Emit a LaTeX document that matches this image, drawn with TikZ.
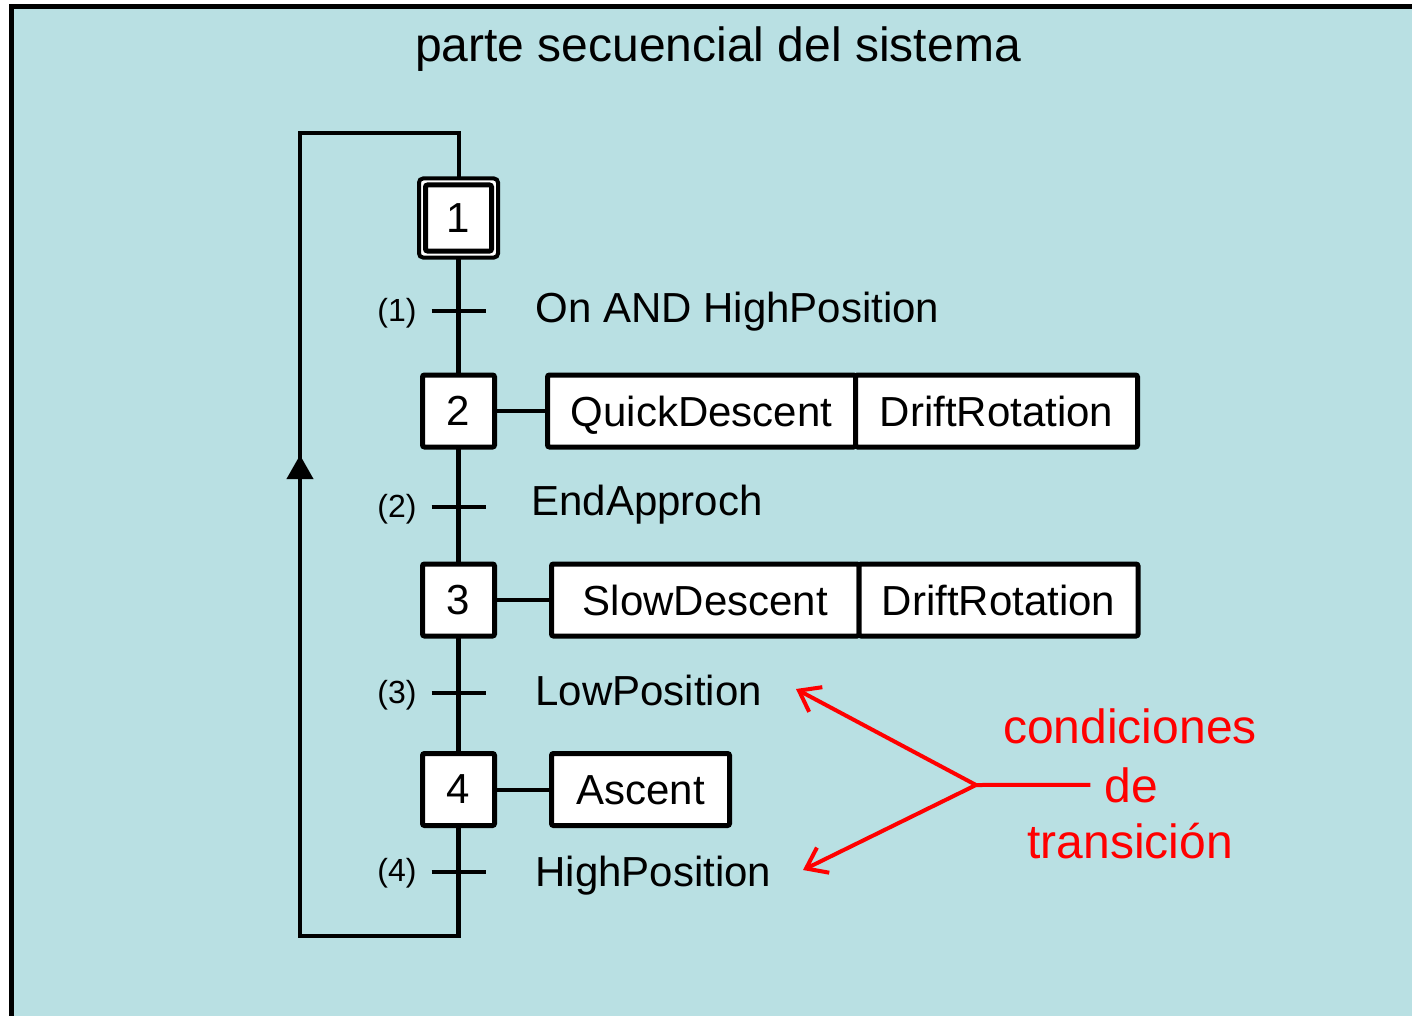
\documentclass[tikz,border=0pt]{standalone}
\usepackage{fontspec}
\setmainfont{Liberation Sans}
\usetikzlibrary{arrows.meta,calc}
\definecolor{panel}{RGB}{185,224,227}
\definecolor{notered}{RGB}{255,0,0}
\begin{document}
\begin{tikzpicture}[x=0.5pt,y=-0.5pt,
  lbl/.style={font=\fontsize{21}{25}\selectfont, inner sep=0pt, anchor=base west},
  numlbl/.style={font=\fontsize{16}{19}\selectfont, inner sep=0pt, anchor=east},
  stepbox/.style={draw, fill=white, line width=2.5pt, rounded corners=1pt,
    minimum size=36pt, inner sep=0pt, outer sep=0pt, font=\fontsize{21}{25}\selectfont},
  actbox/.style={draw, fill=white, line width=2.5pt, rounded corners=1pt,
    minimum height=36pt, inner sep=0pt, outer sep=0pt, anchor=west,
    text height=15pt, text depth=0pt,
    font=\fontsize{21}{25}\selectfont},
  spine/.style={line width=2.5pt},
  loopline/.style={line width=2pt},
  link/.style={line width=2pt},
  tickline/.style={line width=2pt},
  noteline/.style={draw=notered, line width=2pt},
  notetext/.style={text=notered, font=\fontsize{24}{28}\selectfont, anchor=base},
  barb/.style={-{Straight Barb[length=9.5pt,width=14pt]}}
]
\useasboundingbox (0,0) rectangle (1412,1016);
\clip (0,0) rectangle (1412,1016);
\fill[white] (0,0) rectangle (1412,1016);
% panel with its frame
\draw[line width=2.5pt, fill=panel] (11.5,6.5) rectangle (1440,1040);

\node[font=\fontsize{24}{28}\selectfont, anchor=base] (title) at (718,62) {parte secuencial del sistema};

% steps
\node[stepbox, minimum size=39.5pt, line width=2pt, rounded corners=2pt] (s1frame) at (458.5,218) {};
\node[stepbox, minimum size=33pt] (s1) at (458.5,218) {1};
\node[stepbox] (s2) at (458.5,411) {2};
\node[stepbox] (s3) at (458.5,600) {3};
\node[stepbox] (s4) at (458.5,789.5) {4};

% actions
\node[actbox, minimum width=154pt] (a2a) at (547.5,411) {QuickDescent};
\node[actbox, minimum width=141pt] (a2b) at (a2a.east) {DriftRotation};
\node[actbox, minimum width=153.75pt] (a3a) at (551.5,600) {SlowDescent};
\node[actbox, minimum width=139.5pt] (a3b) at (a3a.east) {DriftRotation};
\node[actbox, minimum width=89pt] (a4) at (551.5,789.5) {Ascent};

\draw[link] (s2.east) -- (a2a.west);
\draw[link] (s3.east) -- (a3a.west);
\draw[link] (s4.east) -- (a4.west);

% loop back to the initial step
\coordinate (spinebot) at (458.5,936);
\coordinate (loopbl) at (300,936);
\coordinate (looptl) at (300,133);
\coordinate (arrowtip) at (300,455);
\draw[loopline] (s4.south) |- (loopbl) -- (looptl) -| (s1frame.north);
\draw[loopline, -{Triangle[length=12pt,width=13pt]}] (loopbl) -- (arrowtip);

% main vertical line
\draw[spine] (s1frame.south) -- (s2.north) (s2.south) -- (s3.north)
  (s3.south) -- (s4.north) (s4.south) -- (spinebot);

% transitions
\coordinate (t1) at (458.5,311);
\coordinate (t2) at (458.5,507);
\coordinate (t3) at (458.5,693);
\coordinate (t4) at (458.5,872);
\foreach \t in {t1,t2,t3,t4}
  \draw[tickline] ($(\t)+(-27,0)$) -- ($(\t)+(27,0)$);

\node[numlbl] (n1) at (417,313) {(1)};
\node[numlbl] (n2) at (417,509) {(2)};
\node[numlbl] (n3) at (417,695) {(3)};
\node[numlbl] (n4) at (417,873) {(4)};

\node[lbl] (c1) at (535,322) {On AND HighPosition};
\node[lbl] (c2) at (531,515) {EndApproch};
\node[lbl] (c3) at (535,705) {LowPosition};
\node[lbl] (c4) at (535,886) {HighPosition};

% annotation
\node[notetext] (cond1) at (1130,743) {condiciones};
\node[notetext, inner sep=6.75pt] (cond2) at (1131,802) {de};
\node[notetext] (cond3) at (1130,858) {transición};
\coordinate (junc) at (976,785);
\coordinate (tipA) at (796,689);
\coordinate (tipB) at (803,870);
\draw[noteline] (cond2.west) -- (junc);
\draw[noteline, barb] (junc) -- (tipA);
\draw[noteline, barb] (junc) -- (tipB);
\end{tikzpicture}
\end{document}
